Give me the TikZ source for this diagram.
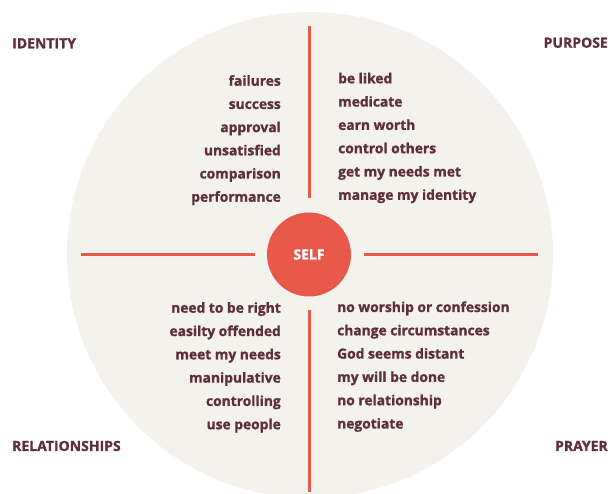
\documentclass[tikz,border=0pt]{standalone}
\usepackage{fontspec}
\setmainfont{Open Sans}[BoldFeatures={FakeBold=1.2}]
\definecolor{txt}{HTML}{5E2F3B}
\definecolor{bg}{HTML}{F4F2EC}
\definecolor{accent}{HTML}{E8594A}
\begin{document}
\begin{tikzpicture}[x=1pt,y=-1pt,
  item/.style={font=\fontsize{13.8}{15}\selectfont\bfseries, text=txt, inner sep=0pt},
  lefti/.style={item, anchor=base east},
  righti/.style={item, anchor=base west},
  header/.style={font=\fontsize{14}{16}\selectfont\bfseries, text=txt, inner sep=0pt},
  axis/.style={draw=accent, line width=2.6pt}]
\useasboundingbox (0,0) rectangle (611,494);
\begin{scope}
\clip (0,0) rectangle (611,494);
\fill[bg] (310,255) circle[radius=243];
\end{scope}
% axes
\coordinate (t1) at (309.5,26);
\coordinate (t2) at (309.5,198);
\coordinate (b1) at (309.5,310);
\coordinate (b2) at (309.5,492);
\coordinate (l1) at (81,254.3);
\coordinate (l2) at (255,254.3);
\coordinate (r1) at (364,254.3);
\coordinate (r2) at (538,254.3);
\draw[axis] (t1) -- (t2);
\draw[axis] (b1) -- (b2);
\draw[axis] (l1) -- (l2);
\draw[axis] (r1) -- (r2);
% self
\node[circle, fill=accent, minimum size=84pt, inner sep=0pt, text=white,
  font=\fontsize{14}{16}\selectfont\bfseries] (self) at (309,254.5) {SELF};
% headers
\node[header, anchor=base west] (identity) at (12,48.3) {IDENTITY};
\node[header, anchor=base east] (purpose) at (608,47.7) {PURPOSE};
\node[header, anchor=base west] (relationships) at (12,451) {RELATIONSHIPS};
\node[header, anchor=base east] (prayer) at (608,451) {PRAYER};
% identity
\node[lefti] (i1) at (281,85.7) {failures};
\node[lefti] (i2) at (281,108.9) {success};
\node[lefti] (i3) at (281,132.1) {approval};
\node[lefti] (i4) at (281,155.3) {unsatisfied};
\node[lefti] (i5) at (281,178.5) {comparison};
\node[lefti] (i6) at (281,201.7) {performance};
% purpose
\node[righti] (p1) at (338,83.3) {be liked};
\node[righti] (p2) at (338,106.6) {medicate};
\node[righti] (p3) at (338,129.9) {earn worth};
\node[righti] (p4) at (338,153.2) {control others};
\node[righti] (p5) at (338,176.5) {get my needs met};
\node[righti] (p6) at (338,199.8) {manage my identity};
% relationships
\node[lefti] (r1n) at (281,312.7) {need to be right};
\node[lefti] (r2n) at (281,336.0) {easilty offended};
\node[lefti] (r3n) at (281,359.3) {meet my needs};
\node[lefti] (r4n) at (281,382.6) {manipulative};
\node[lefti] (r5n) at (281,405.9) {controlling};
\node[lefti] (r6n) at (281,429.2) {use people};
% prayer
\node[righti] (q1) at (337,312) {no worship or confession};
\node[righti] (q2) at (337,335.3) {change circumstances};
\node[righti] (q3) at (337,358.6) {God seems distant};
\node[righti] (q4) at (337,381.9) {my will be done};
\node[righti] (q5) at (337,405.2) {no relationship};
\node[righti] (q6) at (337,428.5) {negotiate};
\end{tikzpicture}
\end{document}
